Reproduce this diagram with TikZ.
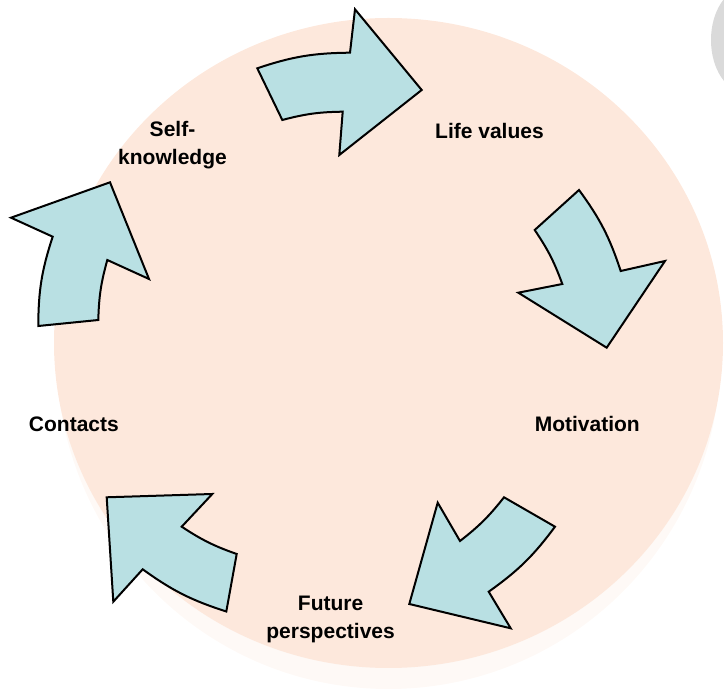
\documentclass[tikz,border=0pt]{standalone}
\usepackage{fontspec}
\setmainfont{Liberation Sans}
\usepackage{tikz}
\usetikzlibrary{shapes}
\usepackage{xcolor}
\definecolor{peach}{RGB}{253,232,220}
\definecolor{arrowteal}{RGB}{185,224,227}
\definecolor{fadegrey}{RGB}{218,218,218}

\begin{document}
\begin{tikzpicture}[x=0.5pt,y=0.5pt]
      \tikzstyle{cyclearrow}=[draw=black,fill=arrowteal,line width=1pt,line join=miter]
      \tikzstyle{every node}=[font=\fontsize{10.5}{14}\selectfont\bfseries,align=center,inner sep=0pt]
      \useasboundingbox (0,0) rectangle (724,691);
      \fill[fadegrey] (745,651) ellipse (34 and 52);
      \fill[peach!25] (388.5,336) ellipse (332 and 334);
      \fill[peach] (388.5,348) ellipse (334.5 and 325);
      \draw[cyclearrow] (257.3,622.7) to[bend left=9] (350,638.3) -- (355,681.7) -- (421.7,601)
        -- (339.3,536) -- (342.7,579.3) to[bend right=7] (282.3,571) -- cycle;
      \draw[cyclearrow] (579,501) to[bend left=9] (620.7,420) -- (665,430) -- (606.7,343.3)
        -- (518.3,398.3) -- (562.3,407) to[bend right=7] (534.7,461) -- cycle;
      \draw[cyclearrow] (555,164.3) to[bend left=9] (488.7,99.3) -- (510.7,62.7) -- (409.3,87)
        -- (437.7,188.3) -- (460,150) to[bend right=7] (504,193.7) -- cycle;
      \draw[cyclearrow] (226.3,79.5) to[bend left=9] (142.7,121.7) -- (113.3,89.3) -- (106.7,193.7)
        -- (212.3,197) -- (181.7,164.3) to[bend right=7] (236.7,137) -- cycle;
      \draw[cyclearrow] (38.3,365) to[bend left=9] (52.7,454.3) -- (11,473.3) -- (110,508.7)
        -- (149,412) -- (107.3,431) to[bend right=7] (98.3,371) -- cycle;
      \node (selfknow) at (172.5,546.3) {Self-\\knowledge};
      \node (lifeval) at (489.5,560.2) {Life values};
      \node (motiv) at (587.3,266.8) {Motivation};
      \node (contacts) at (73.9,267.2) {Contacts};
      \node (future) at (330.6,71.6) {Future\\perspectives};
\end{tikzpicture}
\end{document}
